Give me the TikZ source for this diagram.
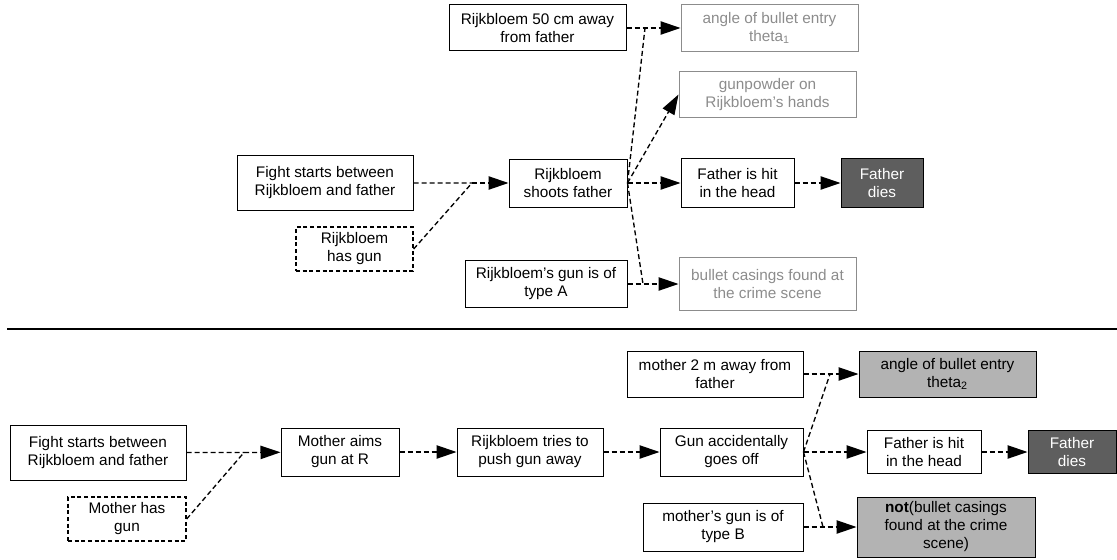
\documentclass[tikz,border=0pt]{standalone}
\usepackage{fontspec}
\setmainfont{Liberation Sans}
\usetikzlibrary{arrows.meta}
\definecolor{fadegray}{HTML}{8C8C8C}
\definecolor{deadgray}{HTML}{5E5E5E}
\definecolor{seengray}{HTML}{B3B3B3}
\tikzset{
  ev/.style 2 args={draw,line width=0.75pt,align=center,inner sep=0pt,
    minimum width=#1*0.75pt,minimum height=#2*0.75pt,
    font=\fontsize{11.5}{13.5}\selectfont},
  given/.style={line width=1pt,dash pattern=on 3pt off 2pt},
  faded/.style={draw=fadegray,text=fadegray},
  dead/.style={fill=deadgray,text=white},
  seen/.style={fill=seengray},
  link/.style={line width=1pt,dash pattern=on 3.75pt off 2.25pt},
  arr/.style={link,-{Triangle[length=15pt,width=10pt]}}
}
\begin{document}
\begin{tikzpicture}[x=0.75pt,y=-0.75pt]
  \useasboundingbox (0,0) rectangle (1117,560);
  \node[ev={177}{46}] (dist1) at (537.5,28) {Rijkbloem 50 cm away\\from father};
  \node[ev={177}{47},faded] (angle1) at (769.5,28) {angle of bullet entry\\theta\textsubscript{1}};
  \node[ev={177}{45},faded] (powder) at (767.5,94.5) {gunpowder on\\Rijkbloem’s hands};
  \node[ev={176}{55}] (fight1) at (325,183) {Fight starts between\\Rijkbloem and father};
  \node[ev={117}{44},given] (hasgun1) at (354.5,249) {Rijkbloem\\has gun};
  \node[ev={118}{48}] (shoots) at (568,183) {Rijkbloem\\shoots father};
  \node[ev={113}{49}] (hit1) at (737.5,183) {Father is hit\\in the head};
  \node[ev={82}{49},dead] (dies1) at (882,183) {Father\\dies};
  \node[ev={162}{47}] (typeA) at (546,284) {Rijkbloem’s gun is of\\type A};
  \node[ev={177}{53},faded] (casings1) at (767.5,284) {bullet casings found at\\the crime scene};
  \coordinate (j1) at (472,183);
  \coordinate (j2) at (645,28);
  \coordinate (j3) at (643,284);
  \draw[link] (fight1) -- (j1) (hasgun1.east) -- (j1);
  \draw[arr] (j1) -- (shoots);
  \draw[link] (shoots.east) -- (j2) (shoots.east) -- (j3);
  \draw[arr] (dist1) -- (angle1);
  \draw[arr] (shoots.east) -- (powder.west);
  \draw[arr] (shoots) -- (hit1);
  \draw[arr] (hit1) -- (dies1);
  \draw[arr] (typeA) -- (casings1);

  \draw[line width=1.5pt] (7,329) -- (1117,329);

  \node[ev={176}{55}] (fight2) at (98,452.5) {Fight starts between\\Rijkbloem and father};
  \node[ev={118}{44},given] (hasgun2) at (127,519) {Mother has\\gun};
  \node[ev={118}{48}] (aims) at (340,452) {Mother aims\\gun at R};
  \node[ev={146}{48}] (push) at (530,452) {Rijkbloem tries to\\push gun away};
  \node[ev={143}{48}] (goesoff) at (731.5,452) {Gun accidentally\\goes off};
  \node[ev={176}{46}] (dist2) at (715,374) {mother 2 m away from\\father};
  \node[ev={177}{46},seen] (angle2) at (947.5,374) {angle of bullet entry\\theta\textsubscript{2}};
  \node[ev={114}{43}] (hit2) at (924,452) {Father is hit\\in the head};
  \node[ev={88}{43},dead] (dies2) at (1072,452) {Father\\dies};
  \node[ev={160}{48}] (typeB) at (723,527) {mother’s gun is of\\type B};
  \node[ev={178}{60},seen] (notcas) at (946,527) {\textbf{not}(bullet casings\\found at the crime\\scene)};
  \coordinate (j4) at (244,452.5);
  \coordinate (j5) at (830,374);
  \coordinate (j6) at (823,527);
  \draw[link] (fight2) -- (j4) (hasgun2.east) -- (j4);
  \draw[arr] (j4) -- (aims);
  \draw[arr] (aims) -- (push);
  \draw[arr] (push) -- (goesoff);
  \draw[link] (goesoff.east) -- (j5) (goesoff.east) -- (j6);
  \draw[arr] (dist2) -- (angle2);
  \draw[arr] (goesoff) -- (hit2);
  \draw[arr] (hit2) -- (dies2);
  \draw[arr] (typeB) -- (notcas);
\end{tikzpicture}
\end{document}
